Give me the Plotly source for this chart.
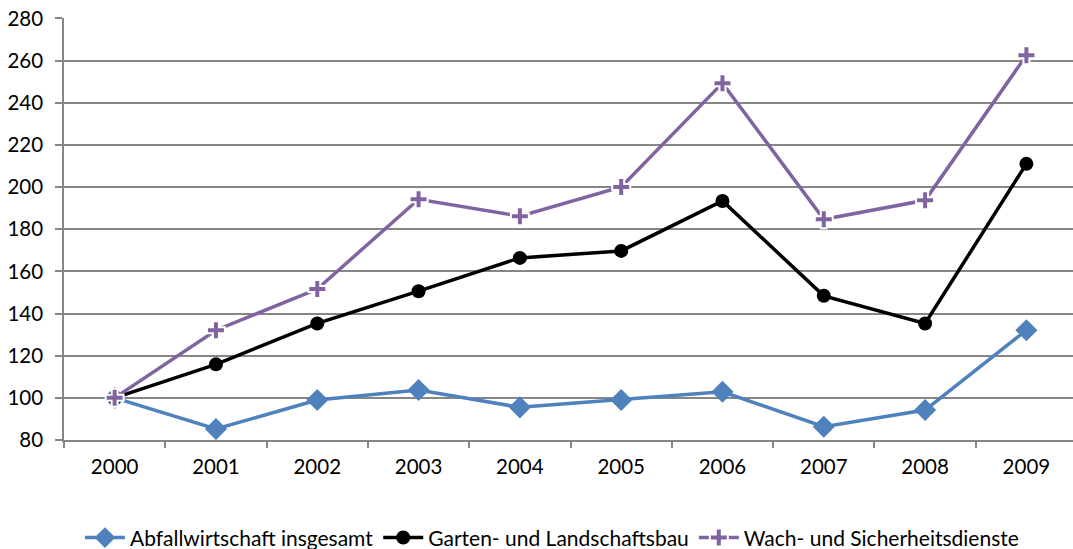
import plotly.graph_objects as go

years = ["2000", "2001", "2002", "2003", "2004", "2005", "2006", "2007", "2008", "2009"]
abfall = [100, 85.2, 99, 103.7, 95.5, 99, 102.9, 86.3, 94.2, 132.1]
garten = [100, 115.9, 135.3, 150.6, 166.4, 169.7, 193.4, 148.4, 135.3, 211]
wach = [100, 132.1, 151.6, 194.2, 186.2, 200, 249.3, 184.7, 193.7, 262.5]
yticks = [80, 100, 120, 140, 160, 180, 200, 220, 240, 260, 280]

FONT = "Lato"
FS = 20.5
fig = go.Figure()
fig.add_trace(go.Scatter(x=years, y=abfall, name="Abfallwirtschaft insgesamt", mode="lines+markers",
                         line=dict(color="#4F81BD", width=3.5),
                         marker=dict(symbol="diamond", size=17, color="#4F81BD")))
fig.add_trace(go.Scatter(x=years, y=garten, name="Garten- und Landschaftsbau", mode="lines+markers",
                         line=dict(color="#000000", width=3.5),
                         marker=dict(symbol="circle", size=14, color="#000000")))
fig.add_trace(go.Scatter(x=years, y=wach, name="Wach- und Sicherheitsdienste", mode="lines+markers",
                         line=dict(color="#8064A2", width=3.5),
                         marker=dict(symbol="cross", size=15, color="#8064A2",
                                     line=dict(color="white", width=2))))

fig.update_layout(
    width=1073, height=549,
    margin=dict(l=64, r=0, t=18, b=109, autoexpand=False),
    paper_bgcolor="white", plot_bgcolor="white",
    font=dict(family=FONT, size=FS, color="#000000"),
    showlegend=True,
    legend=dict(orientation="h", x=0.4836, xanchor="center", y=-0.232, yanchor="middle",
                font=dict(family=FONT, size=21, color="#000000"), itemwidth=40,
                traceorder="normal"),
    xaxis=dict(type="category", range=[-0.5, 9.46], showgrid=False, automargin=False,
               showline=True, linecolor="#868686", linewidth=1.5,
               ticks="outside", ticklen=6, tickcolor="#868686", tickwidth=1.5,
               tickson="boundaries", tickfont=dict(family=FONT, size=FS), ticklabelstandoff=8),
    yaxis=dict(range=[80, 280.2], tickvals=yticks, showgrid=True, gridcolor="#868686", gridwidth=1.5,
               showline=True, linecolor="#868686", linewidth=1.5, automargin=False,
               ticks="outside", ticklen=7, tickcolor="#868686", tickwidth=1.5,
               zeroline=False, tickfont=dict(family=FONT, size=FS), ticklabelstandoff=8),
)

fig.write_html("out.html", config={"displayModeBar": False},
               post_script="document.body.style.margin='0px';")
